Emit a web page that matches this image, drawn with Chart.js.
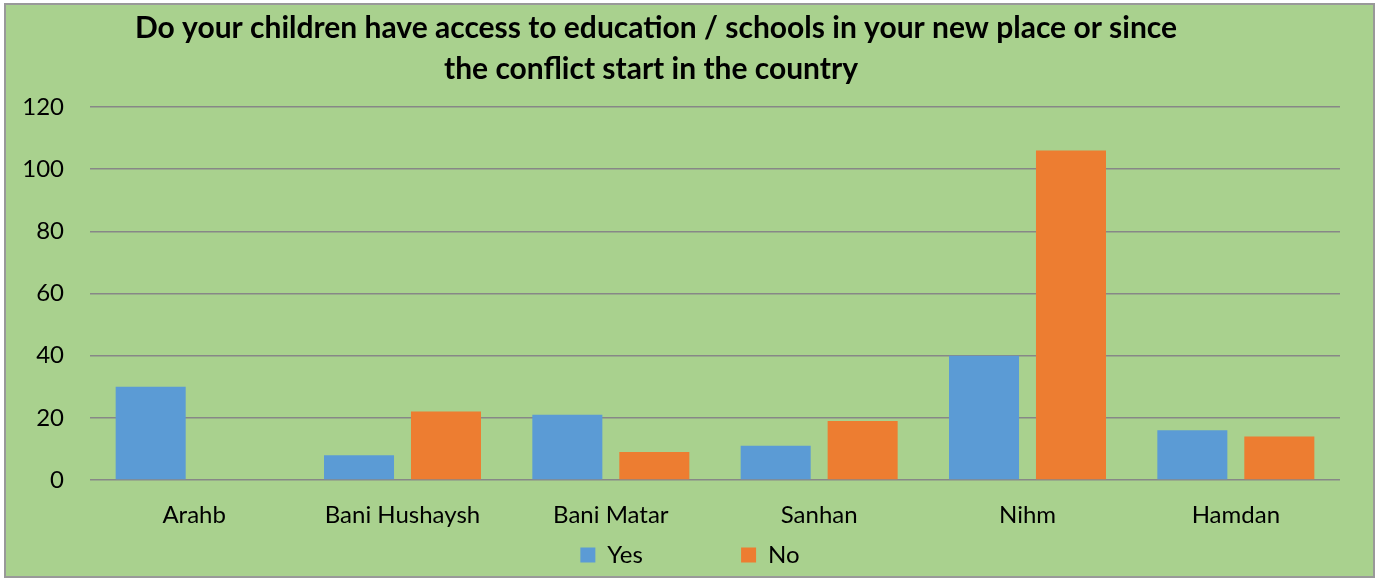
<!DOCTYPE html>
<html>
<head>
<meta charset="utf-8">
<script src="https://cdn.jsdelivr.net/npm/chart.js@4.4.1/dist/chart.umd.min.js"></script>
<style>
	body { margin: 0; background: #ffffff; }
	#wrap { width: 1380px; height: 579px; }
</style>
</head>
<body>
<div id="wrap"><canvas id="eduChart"></canvas></div>
<script>
// chart values
const districts = ['Arahb', 'Bani Hushaysh', 'Bani Matar', 'Sanhan', 'Nihm', 'Hamdan'];
const yesCounts = [30, 8, 21, 11, 40, 16];
const noCounts = [0, 22, 9, 19, 106, 14];
const seriesNames = ['Yes', 'No'];
const titleLines = ['Do your children have access to education / schools in your new place or since', 'the conflict start in the country'];

const FONT = 'Lato, "Open Sans", sans-serif';

// green panel with a grey frame and the bold title on top
const panelPlugin = {
	id : 'panel',
	beforeDraw : function(chart) {
		var ctx = chart.ctx;
		ctx.save();
		ctx.fillStyle = '#a9d18e';
		ctx.fillRect(5, 4, 1369, 573);
		ctx.strokeStyle = '#999999';
		ctx.lineWidth = 2;
		ctx.strokeRect(5, 4, 1369, 573);
		ctx.fillStyle = '#000000';
		ctx.font = 'bold 30px ' + FONT;
		ctx.textAlign = 'center';
		ctx.textBaseline = 'alphabetic';
		ctx.fillText(titleLines[0], 656, 38);
		ctx.fillText(titleLines[1], 651, 79);
		ctx.restore();
	}
};

const edu_ctx = document.getElementById('eduChart');

new Chart(edu_ctx, {
	type : 'bar',
	data : {
		labels : districts,
		datasets : [ {
			label : seriesNames[0],
			data : yesCounts,
			backgroundColor : '#5b9bd5',
			borderWidth : 0
		}, {
			label : seriesNames[1],
			data : noCounts,
			backgroundColor : '#ed7d31',
			borderWidth : 0
		} ]
	},
	options : {
		responsive : true,
		maintainAspectRatio : false,
		animation : false,
		layout : {
			padding : { top : 107, left : 0, right : 0, bottom : 2 }
		},
		datasets : {
			bar : {
				categoryPercentage : 0.835,
				barPercentage : 0.805
			}
		},
		scales : {
			x : {
				afterFit : function(scale) { scale.height = 63; },
				grid : { display : false, drawTicks : false },
				border : { display : false },
				ticks : {
					color : '#000000',
					padding : 21,
					font : { family : FONT, size : 24 }
				}
			},
			y : {
				min : 0,
				max : 120,
				afterFit : function(scale) { scale.width = 90; },
				border : { display : false },
				grid : {
					color : '#878787',
					lineWidth : 1.5,
					drawTicks : false
				},
				ticks : {
					stepSize : 20,
					color : '#000000',
					padding : 26,
					font : { family : FONT, size : 24 }
				}
			},
			// empty right-hand margin of the plot
			yRight : {
				position : 'right',
				afterFit : function(scale) { scale.width = 40; },
				grid : { display : false },
				border : { display : false },
				ticks : { display : false }
			}
		},
		plugins : {
			title : { display : false },
			tooltip : { enabled : false },
			legend : {
				position : 'bottom',
				labels : {
					color : '#000000',
					boxWidth : 15,
					boxHeight : 15,
					padding : 0,
					font : { family : FONT, size : 24 },
					generateLabels : function(chart) {
						var items = Chart.defaults.plugins.legend.labels.generateLabels(chart);
						// wide gap between the two entries, as in the original
						items[0].text = items[0].text + '                ';
						return items;
					}
				}
			}
		}
	},
	plugins : [ panelPlugin ]
});
</script>
</body>
</html>
